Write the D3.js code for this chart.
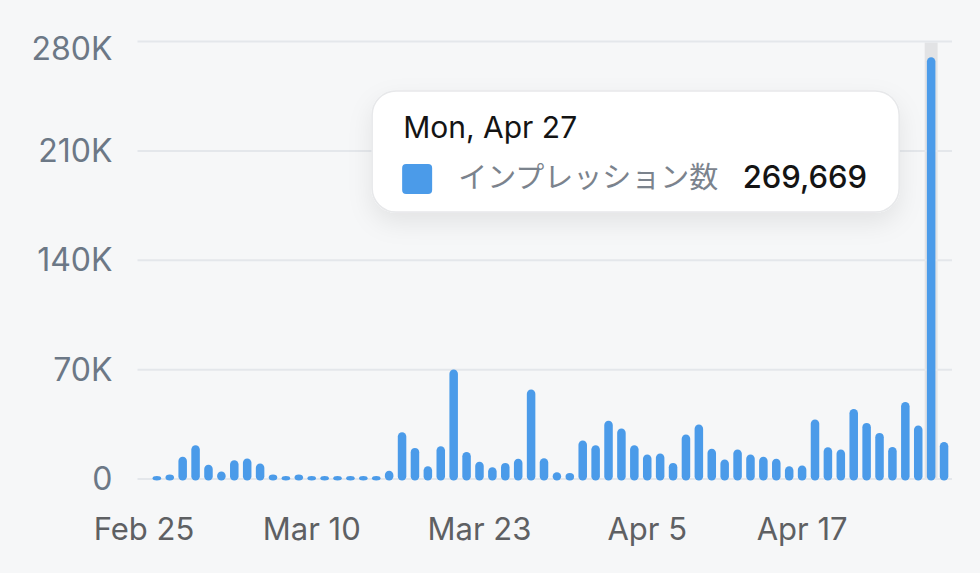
<!DOCTYPE html>
<html>
<head>
<meta charset="utf-8">
<script src="https://cdn.jsdelivr.net/npm/d3@7"></script>
<style>
  html, body { margin: 0; padding: 0; background: #f6f7f8; }
  svg { display: block; }
  text { font-family: Inter, "Noto Sans CJK JP", "Noto Sans", sans-serif; }
</style>
</head>
<body>
<svg id="chart" width="980" height="573"></svg>
<script>
// ---- data ----
const dates = [
  "2026-02-25","2026-02-26","2026-02-27","2026-02-28",
  "2026-03-01","2026-03-02","2026-03-03","2026-03-04","2026-03-05","2026-03-06","2026-03-07",
  "2026-03-08","2026-03-09","2026-03-10","2026-03-11","2026-03-12","2026-03-13","2026-03-14",
  "2026-03-15","2026-03-16","2026-03-17","2026-03-18","2026-03-19","2026-03-20","2026-03-21",
  "2026-03-22","2026-03-23","2026-03-24","2026-03-25","2026-03-26","2026-03-27","2026-03-28",
  "2026-03-29","2026-03-30","2026-03-31",
  "2026-04-01","2026-04-02","2026-04-03","2026-04-04","2026-04-05","2026-04-06","2026-04-07",
  "2026-04-08","2026-04-09","2026-04-10","2026-04-11","2026-04-12","2026-04-13","2026-04-14",
  "2026-04-15","2026-04-16","2026-04-17","2026-04-18","2026-04-19","2026-04-20","2026-04-21",
  "2026-04-22","2026-04-23","2026-04-24","2026-04-25","2026-04-26","2026-04-27","2026-04-28"
];
const impressions = [
  null, 300, 2500, 13900,
  21300, 8800, 4500, 11700, 12800, 9600, 2500,
  1200, 2500, 1000, 300, 300, 300, 300,
  300, 5000, 29600, 19600, 7900, 20700, 69700,
  17000, 10700, 7200, 10000, 12600, 56900, 13000,
  4000, 3500, 24300,
  21300, 36900, 32000, 21300, 15300, 16000, 10000,
  28100, 34500, 19000, 12100, 18500, 15300, 13900,
  12600, 7900, 8300, 37700, 20000, 18500, 44500,
  35600, 29200, 20200, 49000, 33900, 269669, 23400
];
const yTicks = [0, 70000, 140000, 210000, 280000];
const yTickLabels = ["0", "70K", "140K", "210K", "280K"];
const xTicks = ["2026-02-25", "2026-03-10", "2026-03-23", "2026-04-05", "2026-04-17"];
const xTickLabels = ["Feb 25", "Mar 10", "Mar 23", "Apr 5", "Apr 17"];
const seriesName = "インプレッション数";
const highlightDate = "2026-04-27";
const highlightTitle = "Mon, Apr 27";

// ---- layout ----
const svg = d3.select("#chart");
const plotLeft = 137.5, plotRight = 950.5, plotTop = 41, plotBottom = 478.5;
const barColor = "#4b9be9";

const x = d3.scaleBand().domain(dates).range([plotLeft, plotRight]).paddingInner(0.34).paddingOuter(0.17);
const y = d3.scaleLinear().domain([0, 280000]).range([plotBottom, plotTop]);

// highlight column
const hx = x(highlightDate) - x.step() * x.paddingInner() / 2;
svg.append("rect")
  .attr("x", hx).attr("y", y(280000) + 1.5)
  .attr("width", x.step()).attr("height", plotBottom - y(280000) - 1.5)
  .attr("fill", "#e2e3e5");

// y axis + grid
const yAxis = d3.axisLeft(y)
  .tickValues(yTicks)
  .tickFormat((d, i) => yTickLabels[i])
  .tickSizeInner(-(plotRight - plotLeft + 1.5))
  .tickSizeOuter(0)
  .tickPadding(25);
const gy = svg.append("g").attr("transform", `translate(${plotLeft},0)`).call(yAxis);
gy.select(".domain").remove();
gy.selectAll(".tick line").attr("stroke", "#e4e7eb").attr("stroke-width", 2);
gy.selectAll(".tick text")
  .attr("fill", "#6c7886")
  .style("font-size", "32px")
  .attr("dy", (d) => d === 280000 ? "0.58em" : "0.35em");

// x axis
const xAxis = d3.axisBottom(x)
  .tickValues(xTicks)
  .tickFormat((d) => xTickLabels[xTicks.indexOf(d)])
  .tickSize(0)
  .tickPadding(39);
const gx = svg.append("g").attr("transform", `translate(0,${plotBottom})`).call(xAxis);
gx.select(".domain").remove();
gx.selectAll(".tick text").attr("fill", "#5e6063").style("font-size", "31px");

// bars
const barBottom = plotBottom + 2;
svg.append("g").selectAll("rect")
  .data(dates.map((d, i) => ({ d, v: impressions[i] })).filter(o => o.v !== null))
  .join("rect")
  .attr("x", o => x(o.d))
  .attr("width", x.bandwidth())
  .attr("y", o => Math.min(y(o.v), barBottom - 4.5))
  .attr("height", o => barBottom - Math.min(y(o.v), barBottom - 4.5))
  .attr("rx", x.bandwidth() / 2)
  .attr("fill", barColor);

// tooltip
const hv = impressions[dates.indexOf(highlightDate)];
const tipRight = x(highlightDate) + x.bandwidth() / 2 - 32;
const tipW = 527, tipH = 121, tipTop = 91;
const tipLeft = tipRight - tipW;

const defs = svg.append("defs");
const f = defs.append("filter").attr("id", "shadow").attr("x", "-20%").attr("y", "-30%").attr("width", "140%").attr("height", "170%");
f.append("feDropShadow").attr("dx", 0).attr("dy", 10).attr("stdDeviation", 12)
  .attr("flood-color", "#000").attr("flood-opacity", 0.08);

const tip = svg.append("g");
tip.append("rect")
  .attr("x", tipLeft).attr("y", tipTop).attr("width", tipW).attr("height", tipH)
  .attr("rx", 24).attr("fill", "#ffffff")
  .attr("stroke", "#e7e8ea").attr("stroke-width", 1.5)
  .attr("filter", "url(#shadow)");
tip.append("text")
  .attr("x", tipLeft + 31).attr("y", 138)
  .attr("fill", "#141414").style("font-size", "30px")
  .text(highlightTitle);
tip.append("rect")
  .attr("x", tipLeft + 30).attr("y", 164).attr("width", 30).attr("height", 30)
  .attr("rx", 4).attr("fill", barColor);
tip.append("text")
  .attr("x", tipLeft + 86).attr("y", 188)
  .attr("fill", "#7b838d").style("font-size", "29px")
  .text(seriesName);
tip.append("text")
  .attr("x", tipRight - 32).attr("y", 188)
  .attr("text-anchor", "end")
  .attr("fill", "#141414").style("font-size", "31px").style("font-weight", 500)
  .text(d3.format(",")(hv));
</script>
</body>
</html>
